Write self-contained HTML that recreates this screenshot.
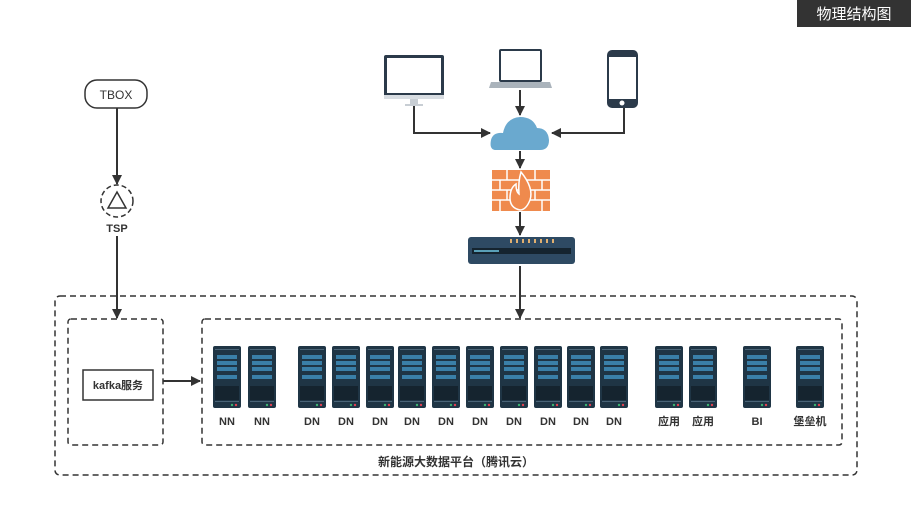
<!DOCTYPE html><html><head><meta charset="utf-8"><style>body{margin:0;background:#fff;width:911px;height:525px;overflow:hidden}text{font-family:"Liberation Sans","Noto Sans CJK SC",sans-serif}</style></head><body>
<svg width="911" height="525" xmlns="http://www.w3.org/2000/svg">
<defs>
<marker id="a" markerWidth="10" markerHeight="10" refX="9" refY="5" orient="auto" markerUnits="userSpaceOnUse"><path d="M0,0 L10,5 L0,10 z" fill="#333"/></marker>
<g id="srv">
<rect x="0" y="0" width="28" height="62" rx="2" fill="#1f3545"/>
<rect x="2" y="3" width="24" height="1" fill="#4a6477"/>
<rect x="4" y="9" width="20" height="4" fill="#3a7fa8"/>
<rect x="4" y="15" width="20" height="4" fill="#3a7fa8"/>
<rect x="4" y="21" width="20" height="4" fill="#3a7fa8"/>
<rect x="4" y="29" width="20" height="4" fill="#3a7fa8"/>
<rect x="2" y="40" width="24" height="14" fill="#15242f"/>
<rect x="2" y="55" width="24" height="1" fill="#4a6477"/>
<circle cx="19" cy="59" r="1.2" fill="#3cb371"/><circle cx="23" cy="59" r="1.2" fill="#e04050"/>
</g>
</defs>
<rect x="797" y="0" width="114" height="27" fill="#333"/>
<text x="854" y="19" font-size="15" fill="#fff" text-anchor="middle">物理结构图</text>
<g fill="none" stroke="#333" stroke-width="1.5" stroke-dasharray="6,4">
<rect x="55" y="296" width="802" height="179" rx="5"/>
<rect x="68" y="319" width="95" height="126" rx="3"/>
<rect x="202" y="319" width="640" height="126" rx="3"/>
<circle cx="117" cy="201" r="16" stroke-dasharray="5,3"/>
</g>
<rect x="85" y="80" width="62" height="28" rx="12" fill="#fff" stroke="#333" stroke-width="1.5"/>
<text x="116" y="99" font-size="12" fill="#333" text-anchor="middle">TBOX</text>
<path d="M108,208 L117,192 L126,208 z" fill="none" stroke="#333" stroke-width="1.5"/>
<text x="117" y="232" font-size="11" font-weight="bold" fill="#333" text-anchor="middle">TSP</text>
<g stroke="#333" stroke-width="2" fill="none" marker-end="url(#a)">
<line x1="117" y1="108" x2="117" y2="184"/>
<line x1="117" y1="236" x2="117" y2="318"/>
<line x1="163" y1="381" x2="200" y2="381"/>
<polyline points="414,106 414,133 490,133"/>
<polyline points="624,108 624,133 552,133"/>
<line x1="520" y1="90" x2="520" y2="115"/>
<line x1="520" y1="151" x2="520" y2="168"/>
<line x1="520" y1="212" x2="520" y2="235"/>
<line x1="520" y1="266" x2="520" y2="318"/>
</g>
<rect x="83" y="370" width="70" height="30" fill="#fff" stroke="#333" stroke-width="1.5"/>
<text x="118" y="389" font-size="11" font-weight="bold" fill="#333" text-anchor="middle">kafka服务</text>
<!-- monitor -->
<rect x="384" y="55" width="60" height="43" rx="2" fill="#2b3a4a"/>
<rect x="387" y="58" width="54" height="35" fill="#fff"/>
<rect x="384" y="95" width="60" height="4" fill="#d8dde2"/>
<rect x="410" y="99" width="8" height="5" fill="#c8ced4"/><rect x="405" y="104" width="18" height="2" fill="#c8ced4"/>
<!-- laptop -->
<rect x="499" y="49" width="43" height="33" rx="2" fill="#2b3a4a"/>
<rect x="501" y="51" width="39" height="29" fill="#fff"/>
<path d="M491,82 L550,82 L552,88 L489,88 z" fill="#aab3bb"/>
<!-- phone -->
<rect x="607" y="50" width="31" height="58" rx="5" fill="#2b3a4a"/>
<rect x="609" y="57" width="27" height="42" fill="#fff"/>
<circle cx="622" cy="103" r="2.5" fill="#fff"/>
<!-- cloud -->
<path d="M496,150 Q489,150 491,140 Q493,132 503,133 Q506,118 520,117 Q533,117 537,128 Q548,128 549,140 Q549,150 540,150 z" fill="#6aa9cf"/>
<!-- firewall -->
<rect x="492" y="170" width="58" height="41" fill="#ef8a4d"/>
<g stroke="#fff" stroke-width="1.5">
<line x1="492" y1="180" x2="550" y2="180"/><line x1="492" y1="190" x2="550" y2="190"/><line x1="492" y1="200" x2="550" y2="200"/>
<line x1="507" y1="170" x2="507" y2="180"/><line x1="535" y1="170" x2="535" y2="180"/>
<line x1="500" y1="180" x2="500" y2="190"/><line x1="542" y1="180" x2="542" y2="190"/>
<line x1="507" y1="190" x2="507" y2="200"/><line x1="535" y1="190" x2="535" y2="200"/>
<line x1="500" y1="200" x2="500" y2="211"/><line x1="542" y1="200" x2="542" y2="211"/>
</g>
<path d="M521,172 Q534,188 530,200 Q526,210 520,210 Q510,208 510,198 Q510,188 516,184 Q516,192 519,194 Q518,182 521,172 z" fill="#ef8a4d" stroke="#fff" stroke-width="1.5"/>
<!-- switch -->
<rect x="468" y="237" width="107" height="27" rx="3" fill="#2e4a63"/>
<rect x="472" y="248" width="99" height="6" fill="#15242f"/>
<rect x="474" y="250" width="25" height="2" fill="#5aa0b8"/>
<g fill="#e0b070"><rect x="510" y="239" width="2" height="4"/><rect x="516" y="239" width="2" height="4"/><rect x="522" y="239" width="2" height="4"/><rect x="528" y="239" width="2" height="4"/><rect x="534" y="239" width="2" height="4"/><rect x="540" y="239" width="2" height="4"/><rect x="546" y="239" width="2" height="4"/><rect x="552" y="239" width="2" height="4"/></g>
<!-- servers -->
<g>
<use href="#srv" x="213" y="346"/><use href="#srv" x="248" y="346"/>
<use href="#srv" x="298" y="346"/><use href="#srv" x="332" y="346"/><use href="#srv" x="366" y="346"/><use href="#srv" x="398" y="346"/><use href="#srv" x="432" y="346"/><use href="#srv" x="466" y="346"/><use href="#srv" x="500" y="346"/><use href="#srv" x="534" y="346"/><use href="#srv" x="567" y="346"/><use href="#srv" x="600" y="346"/>
<use href="#srv" x="655" y="346"/><use href="#srv" x="689" y="346"/><use href="#srv" x="743" y="346"/><use href="#srv" x="796" y="346"/>
</g>
<g font-size="11" font-weight="bold" fill="#333" text-anchor="middle">
<text x="227" y="425">NN</text><text x="262" y="425">NN</text>
<text x="312" y="425">DN</text><text x="346" y="425">DN</text><text x="380" y="425">DN</text><text x="412" y="425">DN</text><text x="446" y="425">DN</text><text x="480" y="425">DN</text><text x="514" y="425">DN</text><text x="548" y="425">DN</text><text x="581" y="425">DN</text><text x="614" y="425">DN</text>
<text x="669" y="425">应用</text><text x="703" y="425">应用</text><text x="757" y="425">BI</text><text x="810" y="425">堡垒机</text>
<text x="456" y="466" font-size="12">新能源大数据平台（腾讯云）</text>
</g>
</svg></body></html>
